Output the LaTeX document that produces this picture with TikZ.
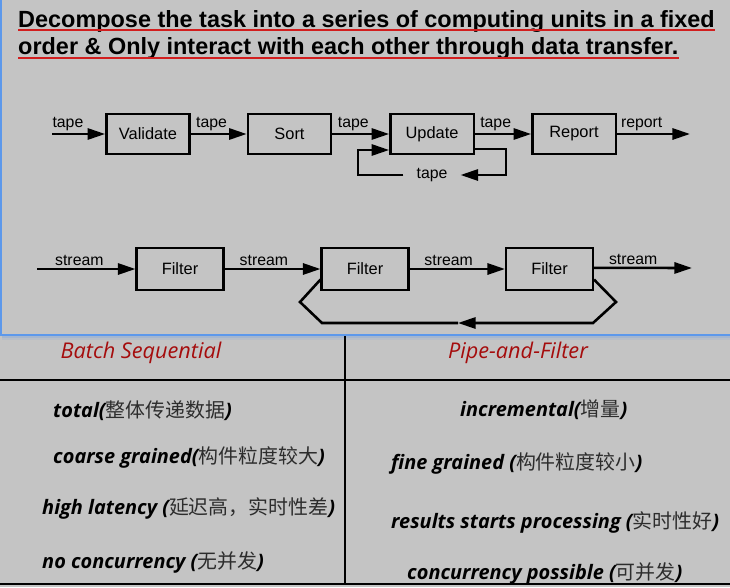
\documentclass[tikz,border=0pt]{standalone}
\usepackage{fontspec}
\setmainfont{Liberation Sans}
\newfontfamily\handfont{Open Sans}
\newfontfamily\cjk{Noto Sans CJK SC}
\usetikzlibrary{arrows,arrows.meta}

\definecolor{slidegray}{RGB}{196,196,196}
\definecolor{frameblue}{RGB}{92,152,235}
\definecolor{underred}{RGB}{210,30,30}
\definecolor{headred}{RGB}{165,12,12}
\definecolor{cjkgray}{RGB}{45,45,45}

\newcommand{\zh}[1]{{\cjk\mdseries\upshape\fontsize{17}{20}\selectfont\color{cjkgray}#1}}

\begin{document}
\begin{tikzpicture}[x=0.03cm,y=-0.03cm,
unit/.style={draw,line width=2pt,minimum width=2.5cm,minimum height=1.2cm,font=\fontsize{14}{16}\selectfont},
filter/.style={unit,minimum width=2.6cm,minimum height=1.25cm},
arrowlabel/.style={font=\fontsize{13.5}{15}\selectfont,inner sep=1.5pt},
looplabel/.style={arrowlabel,inner xsep=11pt},
arrow/.style={-{Triangle[length=15pt,width=9.5pt]},line width=2.2pt},
conn/.style={line width=2.2pt},
title/.style={font=\fontsize{20}{24}\selectfont\bfseries,anchor=base west,inner sep=0pt},
head/.style={font=\handfont\itshape\fontsize{18.5}{22}\selectfont,text=headred},
cell/.style={font=\handfont\bfseries\itshape\fontsize{17}{20}\selectfont,anchor=west,inner sep=0pt},
rule/.style={line width=2pt}]

\fill[slidegray] (0,0) rectangle (730,587);
\useasboundingbox (0,0) rectangle (730,587);

% title
\node[title] (t1) at (18,27) {Decompose the task into a series of computing units in a fixed};
\node[title] (t2) at (18,54) {order \& Only interact with each other through data transfer.};
\draw[underred,line width=1.4pt] ([yshift=-2.5pt]t1.base west) -- ([yshift=-2.5pt]t1.base east);
\draw[underred,line width=1.4pt] ([yshift=-3.5pt]t2.base west) -- ([yshift=-3.5pt]t2.base east);

% batch sequential
\node[unit] (val) at (148,134) {Validate};
\node[unit] (srt) at (289.5,134) {Sort};
\node[unit] (upd) at (432,134) {Update};
\node[unit] (rep) at (574,134) {Report};
\coordinate (tin) at (52,134);
\coordinate (tout) at (690,134);

\draw[arrow] (tin) -- node[above,pos=0.3,arrowlabel] {tape} (val);
\draw[arrow] (val) -- node[above,pos=0.37,arrowlabel] {tape} (srt);
\draw[arrow] (srt) -- node[above,pos=0.37,arrowlabel] {tape} (upd);
\draw[arrow] (upd) -- node[above,pos=0.37,arrowlabel] {tape} (rep);
\draw[arrow] (rep) -- node[above,pos=0.34,arrowlabel] {report} (tout);

\node[looplabel] (tpl) at (432,175) {tape};
\coordinate (lpR) at (506,149);
\coordinate (lpL) at (358,150);
\draw[arrow] (upd.east |- lpR) -- (lpR) |- (tpl.east);
\draw[arrow] (tpl.west) -| (lpL) -- (upd.west |- lpL);

% pipe and filter
\node[filter] (f1) at (180,269) {Filter};
\node[filter] (f2) at (365,269) {Filter};
\node[filter] (f3) at (549.5,269) {Filter};
\coordinate (sin) at (37,269);
\coordinate (sout) at (692,268);

\draw[arrow] (sin) -- node[above,pos=0.43,arrowlabel] {stream} (f1);
\draw[arrow] (f1) -- node[above,pos=0.41,arrowlabel] {stream} (f2);
\draw[arrow] (f2) -- node[above,pos=0.41,arrowlabel] {stream} (f3);
\draw[arrow] ([yshift=1pt]f3.east) -- node[above,pos=0.40,arrowlabel] {stream} (sout);

\coordinate (pr) at (616,302);
\coordinate (prb) at (593,323);
\coordinate (pm) at (458,323);
\coordinate (plb) at (322,323);
\coordinate (pl) at (300,302);
\draw[arrow] ([yshift=-9pt]f3.east) -- (pr) -- (prb) -- (pm);
\draw[conn] (pm) -- (plb) -- (pl) -- ([yshift=-9pt]f2.west);

% frame of the slide
\draw[frameblue,line width=1.5pt] (1,0) -- (1,335) -- (730,335);
\draw[frameblue,opacity=0.3,line width=1pt] (2,337) -- (730,337);
\draw[frameblue,opacity=0.12,line width=1pt] (2,339) -- (730,339);

% comparison table
\draw[rule] (0,380) -- (730,380);
\draw[rule] (0,584) -- (730,584);
\draw[rule] (345,336) -- (345,584);

\node[head] (hb) at (141,353) {Batch Sequential};
\node[head] (hp) at (518,353) {Pipe-and-Filter};

\node[cell] (b1) at (53,411) {total(\zh{整体传递数据})};
\node[cell] (b2) at (53,457) {coarse grained(\zh{构件粒度较大})};
\node[cell] (b3) at (42,508) {high latency (\zh{延迟高，实时性差})};
\node[cell] (b4) at (42,562) {no concurrency (\zh{无并发})};

\node[cell] (p1) at (460,410) {incremental(\zh{增量})};
\node[cell] (p2) at (391,463) {fine grained (\zh{构件粒度较小})};
\node[cell] (p3) at (391,522) {results starts processing (\zh{实时性好})};
\node[cell] (p4) at (407,573) {concurrency possible (\zh{可并发})};

\end{tikzpicture}
\end{document}
